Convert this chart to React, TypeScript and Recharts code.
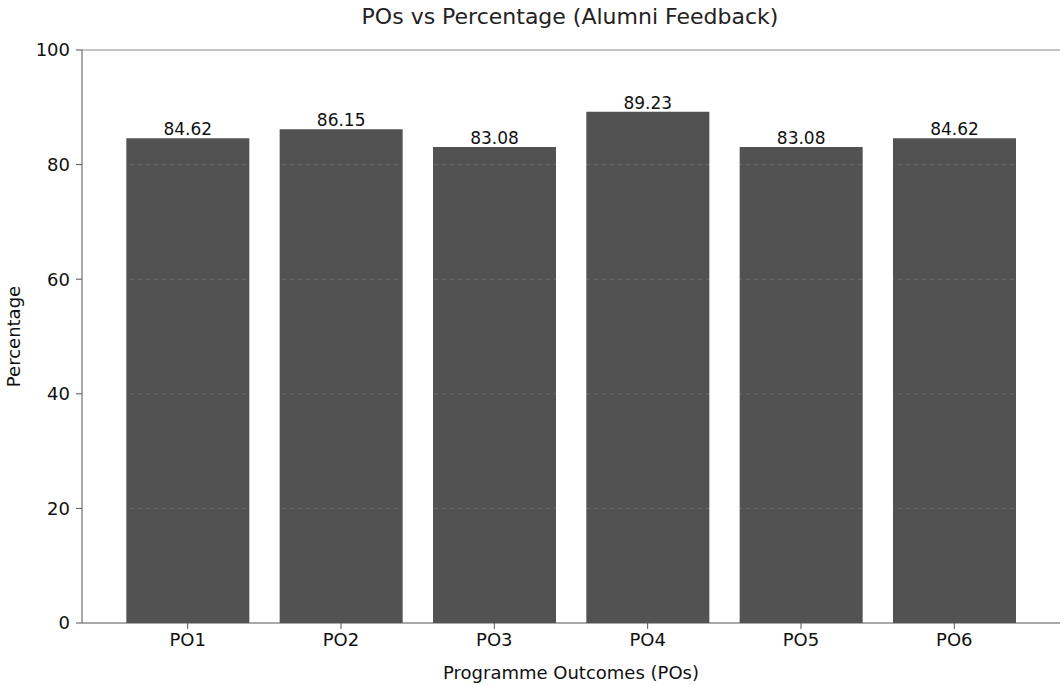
import { BarChart, Bar, XAxis, YAxis, ReferenceLine, LabelList, Label } from 'recharts';

const categories = ['PO1', 'PO2', 'PO3', 'PO4', 'PO5', 'PO6'];
const percentages = [84.62, 86.15, 83.08, 89.23, 83.08, 84.62];
const yTicks = [0, 20, 40, 60, 80, 100];
const gridLevels = [20, 40, 60, 80];

const data = categories.map((name, i) => ({ name, value: percentages[i] }));

const FONT = '"DejaVu Sans", sans-serif';

export default function App() {
  return (
    <div style={{ position: 'absolute', left: 0, top: 0, width: 1064, height: 685, background: '#fff', fontFamily: FONT }}>
      <div
        style={{
          position: 'absolute',
          top: 4,
          left: 0,
          width: 1140,
          textAlign: 'center',
          fontSize: 22,
          color: '#222',
        }}
      >
        POs vs Percentage (Alumni Feedback)
      </div>
      <BarChart
        width={1064}
        height={685}
        data={data}
        margin={{ top: 50, right: 4, left: 0, bottom: 2 }}
        barCategoryGap="10%"
      >
        <XAxis
          dataKey="name"
          height={60}
          padding={{ left: 29, right: 29 }}
          tick={{ fontSize: 18, fill: '#111', fontFamily: FONT }}
          tickLine={{ stroke: '#555' }}
          tickSize={6}
          tickMargin={4}
          axisLine={{ stroke: '#555' }}
        >
          <Label value="Programme Outcomes (POs)" position="insideBottom" offset={4} style={{ fontSize: 18, fill: '#111', fontFamily: FONT }} />
        </XAxis>
        <YAxis
          width={82}
          domain={[0, 100]}
          ticks={yTicks}
          tick={{ fontSize: 18, fill: '#111', fontFamily: FONT }}
          tickLine={{ stroke: '#555' }}
          tickSize={6}
          tickMargin={6}
          axisLine={{ stroke: '#555' }}
        >
          <Label value="Percentage" angle={-90} position="insideLeft" offset={14} style={{ fontSize: 18, fill: '#111', fontFamily: FONT, textAnchor: 'middle' }} />
        </YAxis>
        <Bar dataKey="value" fill="#525252" isAnimationActive={false}>
          <LabelList dataKey="value" position="top" offset={3} formatter={(v: number) => v.toFixed(2)} style={{ fontSize: 17, fill: '#111', fontFamily: FONT }} />
        </Bar>
        {gridLevels.map((y) => (
          <ReferenceLine key={y} y={y} stroke="#ffffff" strokeOpacity={0.15} strokeDasharray="4 4" />
        ))}
        <ReferenceLine y={100} stroke="#888" />
      </BarChart>
    </div>
  );
}
